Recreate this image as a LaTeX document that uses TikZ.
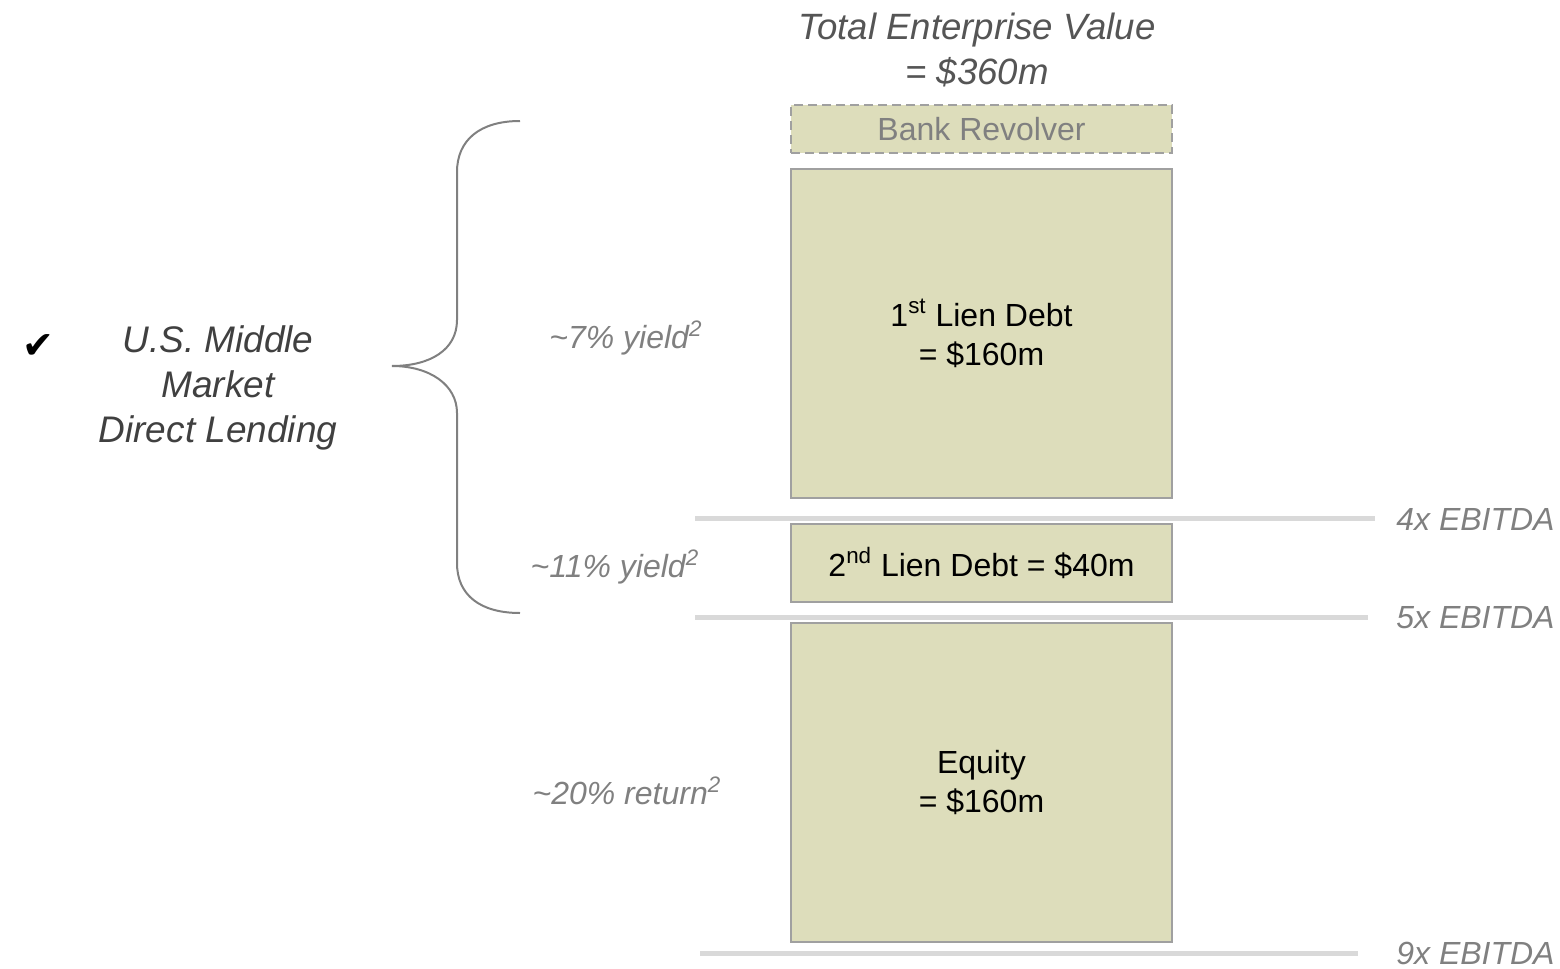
\documentclass[tikz,border=0pt]{standalone}
\usepackage{fontspec}
\setmainfont{Liberation Sans}
\newfontfamily\symfont{DejaVu Sans}
\definecolor{boxfill}{RGB}{221,221,187}
\definecolor{boxline}{RGB}{160,160,160}
\definecolor{rulegray}{RGB}{217,217,217}
\definecolor{labelgray}{RGB}{128,128,128}
\definecolor{titlegray}{RGB}{85,85,85}
\tikzset{
    capbox/.style={draw=boxline, line width=0.75pt, fill=boxfill, minimum width=190.5pt, align=center, font=\fontsize{16}{19.5}\selectfont},
    multline/.style={line width=2.5pt, rulegray},
    ebitda/.style={anchor=east, inner sep=0pt, text=labelgray, font=\fontsize{16}{19}\selectfont\itshape},
    yieldlbl/.style={text=labelgray, font=\fontsize{16}{19}\selectfont\itshape}
}
\begin{document}
\begin{tikzpicture}[x=0.5pt, y=-0.5pt]
        \useasboundingbox (0,0) rectangle (1560,969);

        % title
        \node[align=center, text=titlegray, font=\fontsize{18.3}{22.5}\selectfont\itshape] (tev) at (977,50) {Total Enterprise Value\\= \$360m};

        % capital structure
        \node[capbox, draw=boxline, dash pattern=on 4.5pt off 2.5pt, line width=1.1pt, minimum height=24pt, text=labelgray] (revolver) at (981.5,129) {Bank Revolver};
        \node[capbox, minimum height=164.5pt] (lienone) at (981.5,333.5) {1\textsuperscript{st} Lien Debt\\= \$160m};
        \node[capbox, minimum height=39pt] (lientwo) at (981.5,563) {2\textsuperscript{nd} Lien Debt = \$40m};
        \node[capbox, minimum height=159.5pt] (equity) at (981.5,782.5) {Equity\\= \$160m};

        % leverage rules
        \draw[multline] (695,518) -- (1375,518);
        \draw[multline] (695,617) -- (1368,617);
        \draw[multline] (700,953) -- (1358,953);
        \node[ebitda] (fourx) at (1555,519) {4x EBITDA};
        \node[ebitda] (fivex) at (1555,618) {5x EBITDA};
        \node[ebitda] (ninex) at (1555,953) {9x EBITDA};

        % yields
        \node[yieldlbl] (yone) at (626,338) {\textasciitilde7\% yield\textsuperscript{2}};
        \node[yieldlbl] (ytwo) at (615,567) {\textasciitilde11\% yield\textsuperscript{2}};
        \node[yieldlbl] (yeq) at (627,791) {\textasciitilde20\% return\textsuperscript{2}};

        % brace
        \draw[labelgray, line width=1pt] (520,121) .. controls (480,121) and (457,140) .. (457,172) -- (457,320)
            .. controls (457,350) and (430,366) .. (392,366)
            .. controls (430,366) and (457,385) .. (457,413) -- (457,563)
            .. controls (457,595) and (480,613) .. (520,613);

        % direct lending
        \node[font=\fontsize{19}{19}\selectfont\symfont] (tick) at (38,347) {✔};
        \node[align=center, text=black!75, font=\fontsize{18.5}{22.5}\selectfont\itshape] (dl) at (218,388) {U.S. Middle\\Market\\Direct Lending};
\end{tikzpicture}
\end{document}
